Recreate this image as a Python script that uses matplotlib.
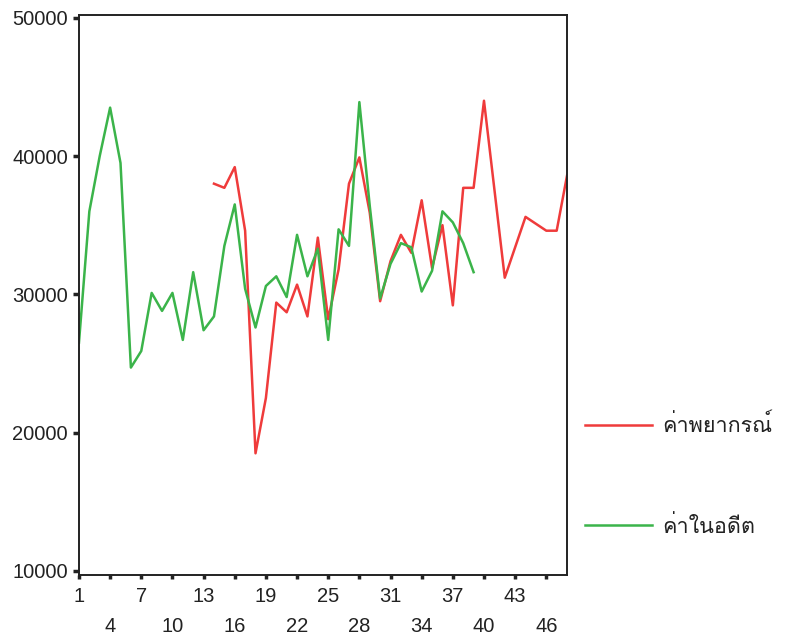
import matplotlib
matplotlib.use("Agg")
import matplotlib.pyplot as plt
from matplotlib import font_manager as fm
from matplotlib.ft2font import FT2Font

# ---- data ----
past_x = list(range(1, 40))
past_values = [26500, 36000, 40000, 43500, 39500, 24700, 25900, 30100, 28800, 30100,
               26700, 31600, 27400, 28400, 33500, 36500, 30400, 27600, 30600, 31300,
               29800, 34300, 31300, 33300, 26700, 34700, 33500, 43900, 36400, 29700,
               32200, 33700, 33400, 30200, 31700, 36000, 35200, 33700, 31600]
forecast_x = list(range(14, 49))
forecast_values = [38000, 37700, 39200, 34600, 18500, 22500, 29400, 28700, 30700, 28400,
                   34100, 28200, 31800, 38000, 39900, 35900, 29500, 32400, 34300, 33000,
                   36800, 31900, 35000, 29200, 37700, 37700, 44000, 37600, 31200, 33400,
                   35600, 35100, 34600, 34600, 38600]
x_ticks_row1 = [1, 7, 13, 19, 25, 31, 37, 43]
x_ticks_row2 = [4, 10, 16, 22, 28, 34, 40, 46]
y_ticks = [10000, 20000, 30000, 40000, 50000]
label_forecast = "ค่าพยากรณ์"
label_past = "ค่าในอดีต"

# ---- font with Thai glyphs ----
thai_family = None
needed = label_forecast + label_past
for f in fm.fontManager.ttflist:
    try:
        cmap = FT2Font(f.fname).get_charmap()
    except Exception:
        continue
    if all(ord(c) in cmap for c in needed):
        thai_family = f.name
        break
num_family = ['Liberation Sans', 'DejaVu Sans']
leg_family = ([thai_family] if thai_family else []) + ['DejaVu Sans']

plt.rcParams['font.family'] = num_family

fig = plt.figure(figsize=(7.92, 6.41), dpi=100)
ax = fig.add_axes([0.0997, 0.103, 0.6163, 0.8736])

red = '#ef3b3b'
green = '#3bb44a'
l_f, = ax.plot(forecast_x, forecast_values, color=red, lw=1.8)
l_p, = ax.plot(past_x, past_values, color=green, lw=1.8)

ax.set_xlim(1, 48)
ax.set_ylim(9700, 50200)
ax.set_yticks(y_ticks)
ax.set_yticklabels([str(v) for v in y_ticks])
ax.set_xticks(x_ticks_row1)
ax.set_xticklabels([str(v) for v in x_ticks_row1])
ax.set_xticks(x_ticks_row2, minor=True)
ax.set_xticklabels([str(v) for v in x_ticks_row2], minor=True)

ax.tick_params(axis='x', which='major', length=3, width=2.5, pad=5.5, labelsize=14.5, colors='#222222')
ax.tick_params(axis='x', which='minor', length=3, width=2.5, pad=27, labelsize=14.5, colors='#222222')
ax.tick_params(axis='y', which='major', length=4, width=2.5, pad=4, labelsize=14.5, colors='#222222')

for s in ax.spines.values():
    s.set_linewidth(1.4)
    s.set_color('#222222')

leg = fig.legend(handles=[l_f, l_p], labels=[label_forecast, label_past],
                 loc='upper left', bbox_to_anchor=(0.714, 0.383),
                 frameon=False, handlelength=3.1, handletextpad=0.5,
                 labelspacing=3.65, prop={'family': leg_family, 'size': 15.5})
for t in leg.get_texts():
    t.set_color('#222222')

fig.savefig('out.png', dpi=100)
